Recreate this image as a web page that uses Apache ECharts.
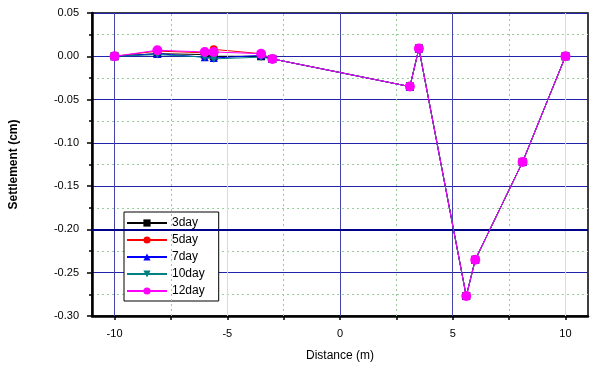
<!DOCTYPE html>
<html><head><meta charset="utf-8">
<script src="https://cdn.jsdelivr.net/npm/echarts@6/dist/echarts.min.js"></script>
<style>html,body{margin:0;padding:0;background:#fff}#c{width:600px;height:367px}</style>
</head><body><div id="c"></div>
<script>
const distances = [-10, -8.1, -6, -5.6, -3.5, -3, 3.1, 3.5, 5.6, 6, 8.1, 10];
const day3  = [0, 0.003, 0.002, 0.000, 0.000, -0.003, -0.035, 0.009, -0.277, -0.235, -0.122, 0];
const day5  = [0, 0.006, 0.004, 0.008, 0.003, -0.003, -0.035, 0.009, -0.277, -0.235, -0.122, 0];
const day7  = [0, 0.003, -0.001, -0.002, 0.001, -0.003, -0.035, 0.009, -0.277, -0.235, -0.122, 0];
const day10 = [0, 0.002, -0.001, -0.003, -0.001, -0.003, -0.035, 0.009, -0.277, -0.235, -0.122, 0];
const day12 = [0, 0.007, 0.005, 0.005, 0.003, -0.003, -0.035, 0.009, -0.277, -0.235, -0.122, 0];
const seriesNames = ['3day', '5day', '7day', '10day', '12day'];
const xTickLabels = [-10, -5, 0, 5, 10];
const xMinorTicks = [-10, -7.5, -5, -2.5, 0, 2.5, 5, 7.5, 10];

const font = 'Liberation Sans, Arial, sans-serif';
const pair = (ys) => distances.map((x, i) => [x, ys[i]]);
const colors = ['#000000', '#ff0000', '#0000ff', '#008080', '#ff00ff'];
const symbols = ['rect', 'circle', 'triangle', 'path://M0,0 L10,0 L5,9 Z', 'circle'];
const allData = [day3, day5, day7, day10, day12];

const gridLines = {
  silent: true, symbol: 'none', label: {show: false}, animation: false,
  data: [
    {xAxis: -10, lineStyle: {color: '#4444aa', type: 'solid', width: 1}},
    {xAxis: -5, lineStyle: {color: '#d8d8f0', type: 'solid', width: 1}},
    {xAxis: 0, lineStyle: {color: '#4444aa', type: 'solid', width: 1}},
    {xAxis: 5, lineStyle: {color: '#4444aa', type: 'solid', width: 1}},
    {xAxis: 10, lineStyle: {color: '#d8d8f0', type: 'solid', width: 1}},
    {xAxis: -7.5, lineStyle: {color: '#99cc99', type: [2, 3], width: 1}},
    {xAxis: -2.5, lineStyle: {color: '#99cc99', type: [2, 3], width: 1}},
    {xAxis: 2.5, lineStyle: {color: '#99cc99', type: [2, 3], width: 1}},
    {xAxis: 7.5, lineStyle: {color: '#99cc99', type: [2, 3], width: 1}},
    {yAxis: -0.2, lineStyle: {color: '#000088', type: 'solid', width: 2}}
  ]
};

const series = seriesNames.map((n, i) => ({
  name: n, type: 'line', data: pair(allData[i]),
  symbol: symbols[i], symbolSize: i === 4 ? 10 : 8,
  lineStyle: {color: colors[i], width: 1},
  itemStyle: {color: colors[i]},
  z: 3 + i, animation: false
}));
series.unshift({type: 'line', data: [], markLine: gridLines, z: 1, silent: true});

const chart = echarts.init(document.getElementById('c'));
chart.setOption({
  animation: false,
  grid: {left: 91, right: 12, top: 13, bottom: 50, show: true, borderColor: '#000', borderWidth: 1.5},
  xAxis: {
    type: 'value', min: -11, max: 11,
    name: 'Distance (m)', nameLocation: 'middle', nameGap: 34,
    nameTextStyle: {fontFamily: font, fontSize: 12, color: '#000'},
    axisLine: {onZero: false, lineStyle: {color: '#000', width: 2.5}},
    axisTick: {show: true, customValues: xMinorTicks, length: 4, lineStyle: {color: '#000', width: 1.5}},
    axisLabel: {customValues: xTickLabels, fontFamily: font, fontSize: 11, color: '#000', margin: 12},
    splitLine: {show: false}
  },
  yAxis: {
    type: 'value', min: -0.30, max: 0.05, interval: 0.05,
    name: 'Settlement (cm)', nameLocation: 'middle', nameGap: 72, nameRotate: 90,
    nameTextStyle: {fontFamily: font, fontSize: 12, fontWeight: 'bold', color: '#000'},
    axisLine: {onZero: false, lineStyle: {color: '#000', width: 2.5}},
    axisTick: {show: true, length: 5, lineStyle: {color: '#000', width: 1.5}},
    minorTick: {show: true, splitNumber: 2, length: 3, lineStyle: {color: '#000', width: 1.5}},
    axisLabel: {fontFamily: font, fontSize: 11, color: '#000', margin: 13,
      formatter: v => v.toFixed(2)},
    splitLine: {show: true, lineStyle: {color: '#2222aa', width: 1}},
    minorSplitLine: {show: true, lineStyle: {color: '#99cc99', type: [2, 3], width: 1}}
  },
  legend: {
    orient: 'vertical', left: 124, top: 212, itemGap: 5,
    itemWidth: 40, itemHeight: 9,
    backgroundColor: '#fff', borderColor: '#000', borderWidth: 1, borderRadius: 0,
    padding: [5, 14, 4, 2],
    textStyle: {fontFamily: font, fontSize: 12, color: '#000'},
    data: seriesNames
  },
  series: series
});
</script></body></html>
